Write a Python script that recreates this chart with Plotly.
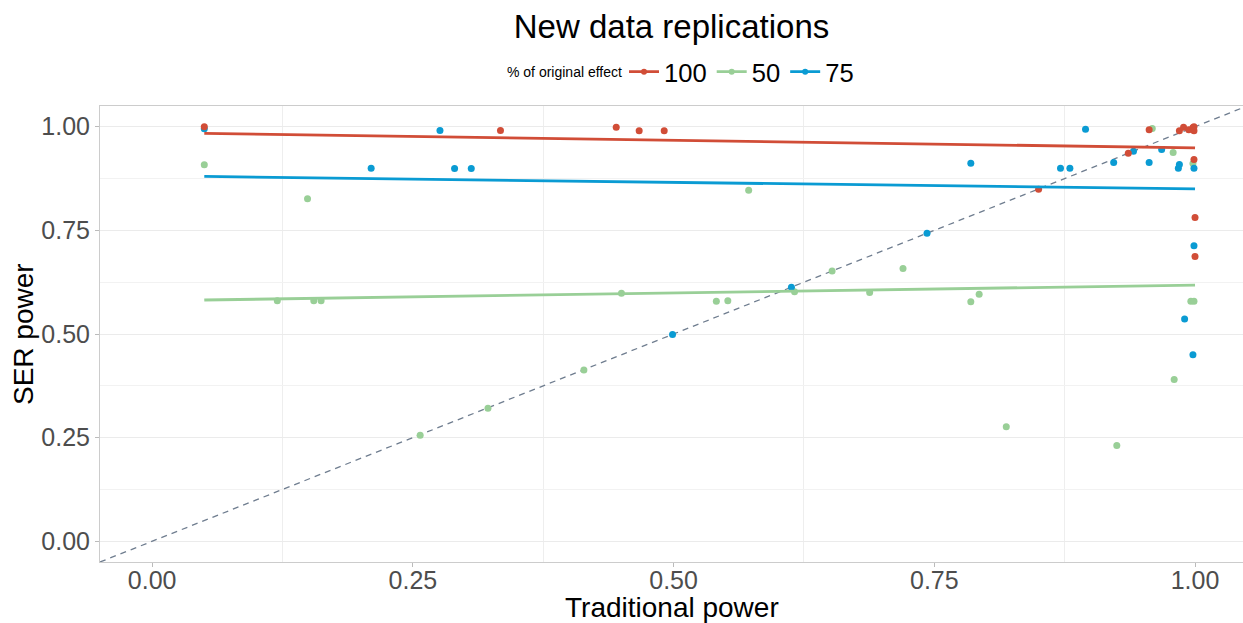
import plotly.graph_objects as go

# ---- data ----
x_100 = [0.050, 0.334, 0.445, 0.467, 0.491, 0.850, 0.936, 0.956, 0.985, 0.989,
         0.994, 0.998, 0.999, 0.999, 0.999, 1.000, 1.000]
y_100 = [1.000, 0.991, 0.999, 0.990, 0.990, 0.849, 0.936, 0.993, 0.990, 0.999,
         0.993, 0.998, 1.000, 0.990, 0.921, 0.781, 0.687]

x_50 = [0.050, 0.120, 0.149, 0.155, 0.162, 0.257, 0.322, 0.414, 0.450, 0.541,
        0.552, 0.572, 0.616, 0.652, 0.688, 0.720, 0.785, 0.793, 0.819, 0.925,
        0.959, 0.979, 0.980, 0.996, 0.998, 0.999]
y_50 = [0.908, 0.580, 0.826, 0.580, 0.580, 0.256, 0.321, 0.413, 0.598, 0.579,
        0.580, 0.847, 0.602, 0.652, 0.600, 0.658, 0.578, 0.596, 0.276, 0.231,
        0.996, 0.938, 0.390, 0.579, 0.911, 0.579]

x_75 = [0.050, 0.210, 0.276, 0.290, 0.306, 0.499, 0.613, 0.743, 0.785, 0.871,
        0.880, 0.895, 0.922, 0.941, 0.956, 0.968, 0.984, 0.985, 0.999, 0.999,
        0.990, 0.998]
y_75 = [0.995, 0.900, 0.991, 0.899, 0.899, 0.499, 0.613, 0.743, 0.912, 0.900,
        0.900, 0.994, 0.914, 0.941, 0.914, 0.945, 0.900, 0.909, 0.900, 0.713,
        0.536, 0.450]

# linear-fit lines (endpoints)
fit_x = [0.05, 1.0]
fit_100 = [0.984, 0.949]
fit_50 = [0.582, 0.618]
fit_75 = [0.880, 0.850]

# identity reference line spans the axis range
axis_range = [-0.05, 1.05]

tick_vals = [0.0, 0.25, 0.5, 0.75, 1.0]
tick_text = ["0.00", "0.25", "0.50", "0.75", "1.00"]

groups = ["100", "50", "75"]
colors = {"100": "#D14D37", "50": "#99CF97", "75": "#0A9BD3"}
points = {"100": (x_100, y_100), "50": (x_50, y_50), "75": (x_75, y_75)}
fits = {"100": fit_100, "50": fit_50, "75": fit_75}

FONT = "Liberation Sans, Arial, Helvetica, sans-serif"

W, H = 1243, 623
ML, MR, MT, MB = 100, 0, 106, 61
PH = H - MT - MB
PW = W - ML - MR

fig = go.Figure()

# dashed identity line
fig.add_trace(go.Scatter(
    x=axis_range, y=axis_range, mode="lines",
    line=dict(color="#6F7D8F", width=1.3, dash="6px,5px"),
    showlegend=False, hoverinfo="skip"))

# points (drawn green, blue, red so red is on top)
for g in ["50", "75", "100"]:
    xs, ys = points[g]
    fig.add_trace(go.Scatter(
        x=xs, y=ys, mode="markers",
        marker=dict(color=colors[g], size=7, line=dict(width=0)),
        legendgroup=g, showlegend=False))

# fit lines
for g in ["50", "75", "100"]:
    fig.add_trace(go.Scatter(
        x=fit_x, y=fits[g], mode="lines",
        line=dict(color=colors[g], width=2.8),
        legendgroup=g, showlegend=False, hoverinfo="skip"))

# legend entries
for rank, g in enumerate(groups):
    fig.add_trace(go.Scatter(
        x=[None], y=[None], mode="lines+markers", name=g,
        line=dict(color=colors[g], width=2.8),
        marker=dict(color=colors[g], size=6),
        legendgroup=g, legendrank=rank + 1, showlegend=True))

fig.update_layout(
    width=W, height=H,
    margin=dict(l=ML, r=MR, t=MT, b=MB, autoexpand=False),
    paper_bgcolor="white", plot_bgcolor="white",
    font=dict(family=FONT, color="#000000"),
    title=dict(text="New data replications", x=0.5, xref="paper",
               y=1 - 26 / H, yref="container", yanchor="middle",
               xanchor="center",
               font=dict(size=33, color="#000000", family=FONT)),
    legend=dict(orientation="h", x=(624 - ML) / PW, xanchor="left",
                y=1 + 34 / PH, yanchor="middle",
                font=dict(size=25.6, color="#000000"),
                itemwidth=30, traceorder="normal",
                bgcolor="rgba(0,0,0,0)"),
    showlegend=True,
    annotations=[
        dict(text="% of original effect", xref="paper", yref="paper",
             x=(624 - ML) / PW, y=1 + 34 / PH,
             xanchor="right", yanchor="middle", showarrow=False,
             font=dict(size=14, color="#000000", family=FONT)),
        dict(text="Traditional power", xref="paper", yref="paper",
             x=0.5, y=-(607 - (H - MB)) / PH, xanchor="center",
             yanchor="middle", showarrow=False,
             font=dict(size=28, color="#000000", family=FONT)),
        dict(text="SER power", xref="paper", yref="paper",
             x=-(ML - 23) / PW, y=0.5, xanchor="center",
             yanchor="middle", showarrow=False, textangle=-90,
             font=dict(size=28, color="#000000", family=FONT)),
    ],
)

fig.update_xaxes(
    range=[-0.05, 1.046], tickvals=tick_vals, ticktext=tick_text,
    showgrid=False, zeroline=False, automargin=False,
    minor=dict(tick0=0.125, dtick=0.25, showgrid=True,
               gridcolor="#EEEEEE", gridwidth=1),
    showline=True, linecolor="#CCCCCC", linewidth=1, mirror=True,
    ticks="outside", ticklen=4, tickcolor="#BBBBBB",
    ticklabelstandoff=-8,
    tickfont=dict(size=25, color="#4D4D4D", family=FONT),
)
fig.update_yaxes(
    range=[-0.05, 1.05], tickvals=tick_vals, ticktext=tick_text,
    showgrid=True, gridcolor="#EBEBEB", gridwidth=1, zeroline=False,
    automargin=False,
    minor=dict(tick0=0.125, dtick=0.25, showgrid=True,
               gridcolor="#F2F2F2", gridwidth=1),
    showline=True, linecolor="#CCCCCC", linewidth=1, mirror=False,
    ticks="outside", ticklen=4, tickcolor="#BBBBBB",
    tickfont=dict(size=25, color="#4D4D4D", family=FONT),
)

fig.write_html(
    "out.html",
    config={"displayModeBar": False},
    post_script="document.body.style.margin='0';document.body.style.overflow='hidden';",
)
